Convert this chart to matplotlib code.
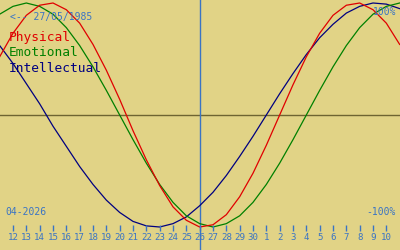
import numpy as np
import matplotlib
matplotlib.use('Agg')
import matplotlib.pyplot as plt
import matplotlib.transforms as mtransforms

# days counted from 1 April 2026 (32 = 2 May ...)
days = list(range(11, 42))
physical = [0.52, 0.73, 0.89, 0.98, 1.00, 0.94, 0.82, 0.63, 0.40, 0.14, -0.14, -0.40, -0.63, -0.82, -0.94,
            -1.00, -0.98, -0.89, -0.73, -0.52, -0.27, 0.00, 0.27, 0.52, 0.73, 0.89, 0.98, 1.00, 0.94, 0.82, 0.63]
emotional = [0.90, 0.97, 1.00, 0.97, 0.90, 0.78, 0.62, 0.43, 0.22, 0.00, -0.22, -0.43, -0.62, -0.78, -0.90,
             -0.97, -1.00, -0.97, -0.90, -0.78, -0.62, -0.43, -0.22, 0.00, 0.22, 0.43, 0.62, 0.78, 0.90, 0.97, 1.00]
intellectual = [0.62, 0.46, 0.28, 0.10, -0.10, -0.28, -0.46, -0.62, -0.76, -0.87, -0.95, -0.99, -1.00, -0.97, -0.91,
                -0.81, -0.69, -0.54, -0.37, -0.19, 0.00, 0.19, 0.37, 0.54, 0.69, 0.81, 0.91, 0.97, 1.00, 0.99, 0.95]
tick_days = list(range(12, 41))
tick_labels = [str(d) for d in range(12, 31)] + [str(d) for d in range(1, 11)]
today = 26
birth = '27/05/1985'
month = '04-2026'

bg = '#e1d386'
blue = '#3a74c4'
mono = 'DejaVu Sans Mono'

fig = plt.figure(figsize=(4, 2.5), dpi=100, facecolor=bg)
ax = fig.add_axes([0, 0, 1, 1])
ax.set_facecolor(bg)
ax.set_xlim(11.025, 41.025)
ax.set_ylim(-135 / 112, 115 / 112)
ax.axis('off')

ax.axhline(0, color='#6e6432', lw=1)
ax.axvline(today, color=blue, lw=1)

ax.plot(days, intellectual, color='#000080', lw=0.9)
ax.plot(days, emotional, color='#008000', lw=0.9)
ax.plot(days, physical, color='#e00000', lw=0.9)

trans = mtransforms.blended_transform_factory(ax.transData, ax.transAxes)
ax.vlines(tick_days, 1 - 231 / 250, 1 - 225 / 250, color=blue, lw=1, transform=trans)
for d, lab in zip(tick_days, tick_labels):
    ax.text(d, 1 - 238 / 250, lab, transform=trans, ha='center', va='center',
            fontsize=6.6, family=mono, color=blue)

ft = ax.transAxes
ax.text(10 / 400, 1 - 17 / 250, '<-- ' + birth, transform=ft, ha='left', va='center',
        fontsize=7, family=mono, color=blue)
ax.text(396 / 400, 1 - 12 / 250, '100%', transform=ft, ha='right', va='center',
        fontsize=7, family=mono, color=blue)
ax.text(396 / 400, 1 - 212 / 250, '-100%', transform=ft, ha='right', va='center',
        fontsize=7, family=mono, color=blue)
ax.text(5 / 400, 1 - 212 / 250, month, transform=ft, ha='left', va='center',
        fontsize=7, family=mono, color=blue)

for i, (name, c) in enumerate([('Physical', '#e00000'), ('Emotional', '#008000'),
                               ('Intellectual', '#000080')]):
    ax.text(9 / 400, 1 - (38 + 15 * i) / 250, name, transform=ft, ha='left', va='center',
            fontsize=9.3, family=mono, color=c)

fig.savefig('out.png', dpi=100, facecolor=bg)
